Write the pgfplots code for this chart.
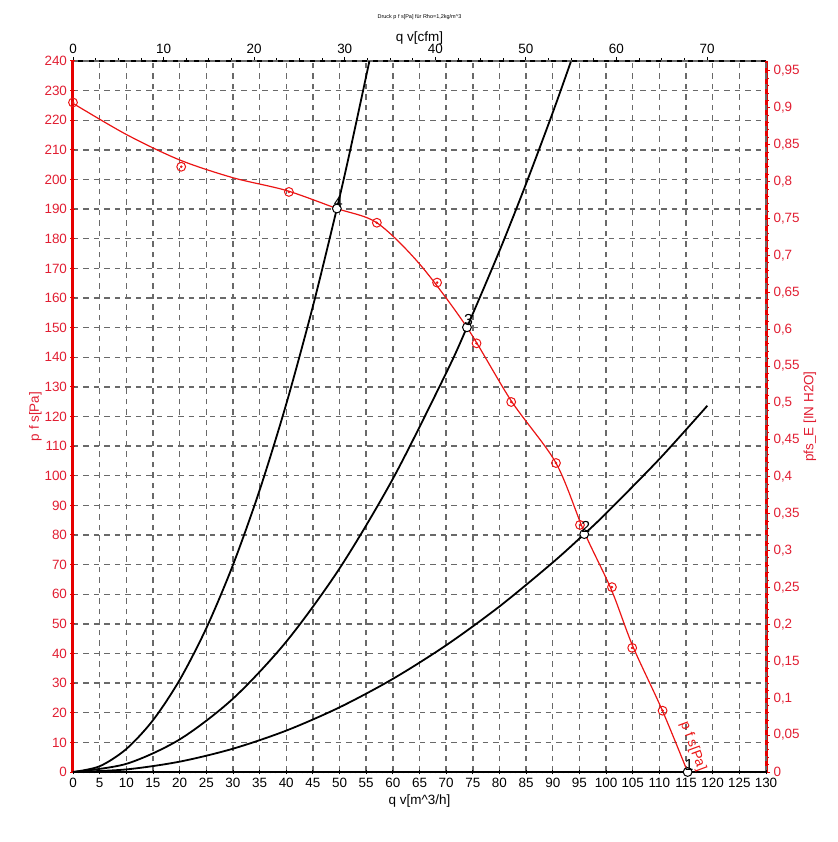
\documentclass[border=0pt]{standalone}
\usepackage{fontspec}
\setmainfont{Liberation Sans}
\usepackage{pgfplots}
\pgfplotsset{compat=1.18}
\definecolor{axred}{RGB}{230,0,0}
\definecolor{txred}{RGB}{225,30,50}
\definecolor{crvred}{RGB}{235,20,20}
\definecolor{gridgray}{RGB}{105,105,105}
\begin{document}
\begin{tikzpicture}
\path[use as bounding box] (-73bp,-70bp) rectangle (765bp,772bp);
\pgfplotsset{
  every axis/.append style={
    /pgf/number format/assume math mode=true,
    tick label style={font=\fontsize{13.5}{15}\selectfont},
    label style={font=\fontsize{13.5}{15}\selectfont},
  }
}
% secondary axis (top: cfm, right: in H2O)
\begin{axis}[
  at={(0,0)}, anchor=south west,
  scale only axis, width=693bp, height=711bp,
  xmin=0, xmax=76.51, ymin=0, ymax=0.96352,
  axis x line*=top, axis y line*=right,
  xtick={0,10,...,70}, minor x tick num=3,
  ytick={0,0.05,0.1,0.15,0.2,0.25,0.3,0.35,0.4,0.45,0.5,0.55,0.6,0.65,0.7,0.75,0.8,0.85,0.9,0.95},
  minor y tick num=4,
  scaled y ticks=false,
  yticklabel style={text=txred, /pgf/number format/.cd, fixed, precision=2, use comma},
  x axis line style={black, line width=2bp, -},
  y axis line style={axred, line width=3bp, -},
  x tick style={black, line width=0.8bp},
  y tick style={axred, line width=1bp},
  tick align=outside,
  major tick length=4bp, minor tick length=2.5bp,
  xlabel={q v[cfm]}, ylabel={pfs\_E [IN H2O]},
  ylabel style={text=txred, xshift=0bp, yshift=3bp},
  xlabel style={yshift=-7bp},
  clip=false,
]
\addplot[draw=none] coordinates {(0,0)};
\node[font=\fontsize{5.5}{6}\selectfont] at (rel axis cs:0.5,1) [yshift=44bp] {Druck p f s[Pa] für Rho=1,2kg/m\textasciicircum 3};
\end{axis}
% main axis
\begin{axis}[
  at={(0,0)}, anchor=south west,
  scale only axis, width=693bp, height=711bp,
  xmin=0, xmax=130, ymin=0, ymax=240,
  axis x line*=bottom, axis y line*=left,
  xtick={0,5,...,130}, ytick={0,10,...,240},
  minor x tick num=4, minor y tick num=4,
  grid=major,
  major grid style={gridgray, line width=1.4bp, dash pattern=on 5.5bp off 5bp},
  x axis line style={black, line width=2bp, -},
  y axis line style={axred, line width=3bp, -},
  x tick style={black, line width=0.8bp},
  y tick style={axred, line width=1bp},
  tick align=center,
  major tick length=5bp, minor tick length=3bp,
  yticklabel style={text=txred},
  xlabel={q v[m\textasciicircum 3/h]}, ylabel={p f s[Pa]},
  ylabel style={text=txred, yshift=-4bp},
  clip=false,
]
% system curves
\addplot[black, line width=1.8bp, smooth] coordinates {
(0,0) (5,1.94) (10,7.76) (15,17.46) (20,31.05) (25,48.51) (30,69.86) (35,95.08) (40,124.19) (45,157.18) (49.5,190.2) (52,209.88) (55.6,239.95)};
\addplot[black, line width=1.8bp, smooth] coordinates {
(0,0) (10,2.75) (20,10.99) (30,24.74) (40,43.98) (50,68.71) (60,98.95) (70,134.68) (73.9,150.1) (80,175.9) (85,198.6) (90,222.6) (93.4,239.8)};
\addplot[black, line width=1.8bp, smooth] coordinates {
(0,0) (10,0.87) (20,3.49) (30,7.86) (40,13.97) (50,21.83) (60,31.43) (70,42.78) (80,55.88) (90,70.72) (95.9,80.3) (100,87.31) (110,105.65) (119,123.64)};
% fan curve
\addplot[crvred, line width=1.2bp, smooth, tension=0.5] coordinates {
(0,225.7) (10,215.2) (20,206.6) (30,200.6) (40,196.3) (49.5,190.2) (57,185.4) (65,171.5) (73.9,150.1) (82.2,125.3) (90.6,104.3) (95.9,81) (101,61.5) (105,42.5) (110.5,21) (115.3,0)};
\addplot[only marks, mark=o, mark size=4.4bp, crvred, line width=1bp] coordinates {
(0,226) (20.3,204.3) (40.5,195.8) (57,185.4) (68.3,165.2) (75.7,144.7) (82.2,124.9) (90.6,104.3) (95.1,83.4) (101.1,62.4) (104.9,41.9) (110.6,20.7)};
\addplot[only marks, mark=*, mark size=1.1bp, crvred] coordinates {
(0,226) (20.3,204.3) (40.5,195.8) (57,185.4) (68.3,165.2) (75.7,144.7) (82.2,124.9) (90.6,104.3) (95.1,83.4) (101.1,62.4) (104.9,41.9) (110.6,20.7)};
% operating points
\addplot[only marks, mark=*, mark size=4.4bp, black, mark options={fill=white, line width=1bp},
  nodes near coords={\fontsize{16}{17}\selectfont\pgfplotspointmeta}, point meta=explicit symbolic,
  nodes near coords style={anchor=south, yshift=0bp, xshift=1.5bp, inner sep=1bp, text=black}]
  table[meta=lab] {
x y lab
49.5 190.2 4
73.9 150.1 3
95.9 80.3 2
115.3 0 1
};
\addplot[draw=none, nodes near coords={\fontsize{14}{15}\selectfont\pgfplotspointmeta}, point meta=explicit symbolic,
  nodes near coords style={anchor=center, rotate=-69.6, inner sep=0pt, text=crvred}]
  table[meta=lab] {
x y lab
116.3 8.6 {p f s[Pa]}
};
\end{axis}
\end{tikzpicture}
\end{document}
